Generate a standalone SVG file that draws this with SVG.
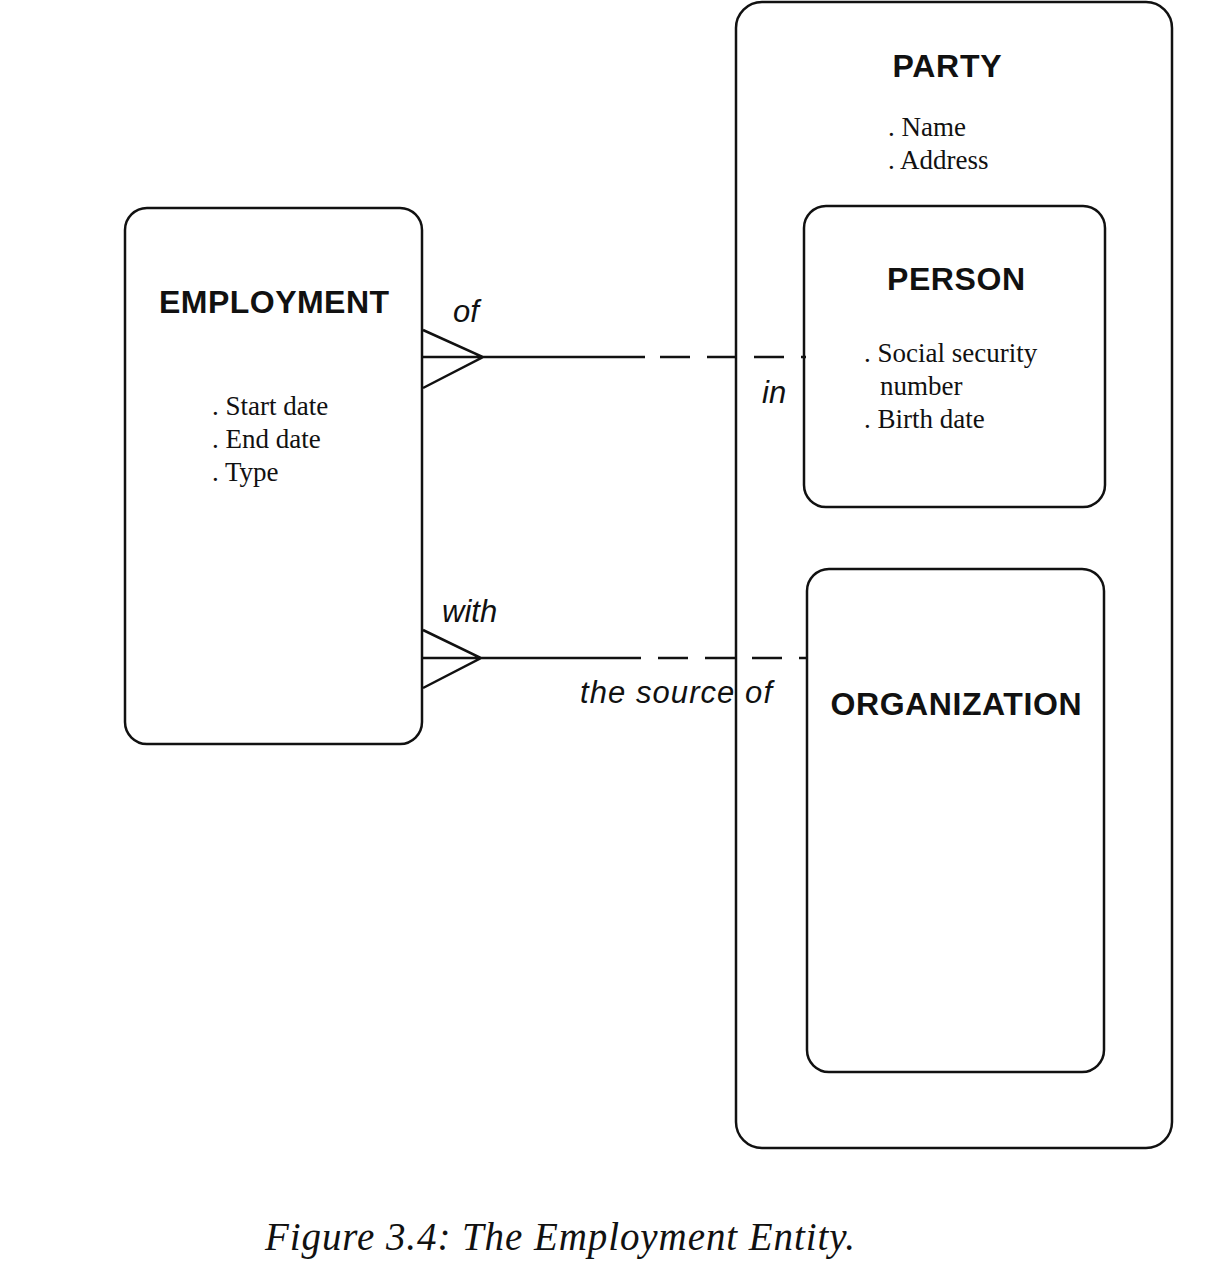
<svg xmlns="http://www.w3.org/2000/svg" width="1216" height="1278" viewBox="0 0 1216 1278">
<style>
.box{fill:none;stroke:#111;stroke-width:2.5}
.title{font-family:"Liberation Sans",Arial,sans-serif;font-weight:bold;font-size:32px;fill:#111;text-anchor:middle}
.attr{font-family:"Liberation Serif","Times New Roman",serif;font-size:27px;fill:#111}
.lbl{font-family:"Liberation Sans",Arial,sans-serif;font-style:italic;font-size:31px;fill:#111}
.line{fill:none;stroke:#111;stroke-width:2.5}
.dash{fill:none;stroke:#111;stroke-width:2.5;stroke-dasharray:30 17}
.cap{font-family:"Liberation Serif","Times New Roman",serif;font-style:italic;font-size:39px;fill:#111}
</style>
<rect width="1216" height="1278" fill="#fff"/>
<g id="party">
<rect class="box" x="736" y="2" width="436" height="1146" rx="26"/>
<text class="title" x="947" y="77" textLength="109">PARTY</text>
<text class="attr" x="888" y="136">. Name</text>
<text class="attr" x="888" y="169">. Address</text>
</g>
<g id="person">
<rect class="box" x="804" y="206" width="301" height="301" rx="22"/>
<text class="title" x="956" y="290" textLength="138">PERSON</text>
<text class="attr" x="864" y="362">. Social security</text>
<text class="attr" x="880" y="395">number</text>
<text class="attr" x="864" y="428">. Birth date</text>
</g>
<g id="organization">
<rect class="box" x="807" y="569" width="297" height="503" rx="22"/>
<text class="title" x="956" y="715" textLength="251">ORGANIZATION</text>
</g>
<g id="employment">
<rect class="box" x="125" y="208" width="297" height="536" rx="22"/>
<text class="title" x="274" y="313" textLength="230">EMPLOYMENT</text>
<text class="attr" x="212" y="415">. Start date</text>
<text class="attr" x="212" y="448">. End date</text>
<text class="attr" x="212" y="481">. Type</text>
</g>
<g id="connectors">
<path class="line" d="M423 330 L483 357 L423 388 M423 357 L645 357"/>
<path class="dash" d="M660 357 L806 357"/>
<text class="lbl" x="453" y="322">of</text>
<text class="lbl" x="762" y="403">in</text>
<path class="line" d="M423 630 L481 658 L423 688 M423 658 L641 658"/>
<path class="dash" d="M658 658 L806 658"/>
<text class="lbl" x="442" y="622">with</text>
<text class="lbl" x="580" y="703" textLength="192">the source of</text>
</g>
<text class="cap" x="265" y="1250" textLength="590">Figure 3.4:  The Employment Entity.</text>
</svg>
